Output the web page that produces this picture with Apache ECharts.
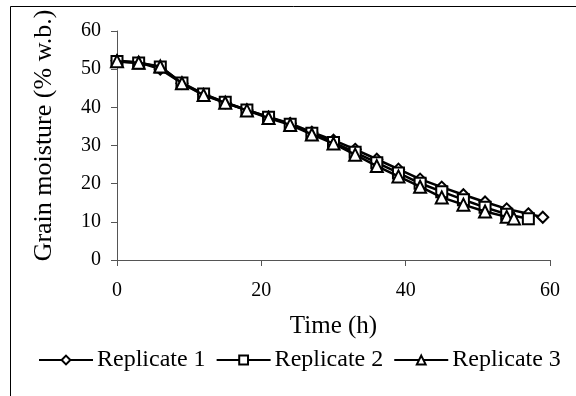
<!DOCTYPE html>
<html><head><meta charset="utf-8">
<script src="https://cdn.jsdelivr.net/npm/echarts@6/dist/echarts.min.js"></script>
<style>html,body{margin:0;padding:0;background:#fff}#c{width:576px;height:396px}</style>
</head><body><div id="c"></div>
<script>
const seriesNames = ['Replicate 1', 'Replicate 2', 'Replicate 3'];
const time1 = [0,3,6,9,12,15,18,21,24,27,30,33,36,39,42,45,48,51,54,57,59];
const rep1  = [52.2,51.8,50.0,46.3,43.4,41.2,39.3,37.5,35.8,33.5,31.4,29.0,26.4,23.8,21.2,19.1,17.1,15.2,13.4,12.1,11.2];
const time2 = [0,3,6,9,12,15,18,21,24,27,30,33,36,39,42,45,48,51,54,57];
const rep2  = [52.0,51.6,50.6,46.4,43.5,41.3,39.3,37.4,35.6,33.2,30.8,28.2,25.5,22.8,20.1,17.9,15.8,13.8,12.0,10.8];
const time3 = [0,3,6,9,12,15,18,21,24,27,30,33,36,39,42,45,48,51,54,55];
const rep3  = [52.1,51.7,50.7,46.3,43.2,41.2,39.2,37.2,35.4,32.9,30.5,27.6,24.6,21.9,19.2,16.4,14.5,12.7,11.3,10.9];
const xTicks = [0,20,40,60];
const yTicks = [0,10,20,30,40,50,60];

const font = '"Liberation Serif","Times New Roman",serif';
const pair = (t, v) => t.map((x, i) => [x, v[i]]);
const symbols = ['diamond', 'rect', 'triangle'];
const sizes = [11, 11, 12];
const data = [pair(time1, rep1), pair(time2, rep2), pair(time3, rep3)];

const chart = echarts.init(document.getElementById('c'), null, {renderer: 'canvas'});
chart.setOption({
  animation: false,
  backgroundColor: '#fff',
  graphic: [{
    type: 'rect', silent: true, z: -1,
    shape: {x: 10.5, y: 6.5, width: 700, height: 500},
    style: {fill: 'none', stroke: '#000', lineWidth: 1}
  }],
  grid: {left: 117, right: 26, top: 31, bottom: 136},
  legend: {
    bottom: 24, left: 38, width: 700, padding: 0,
    itemWidth: 54, itemHeight: 11, itemGap: 10,
    textStyle: {fontFamily: font, fontSize: 24, color: '#000', padding: [0, 0, 0, -1]},
    data: seriesNames
  },
  xAxis: {
    type: 'value', min: 0, max: 60, interval: 20,
    name: 'Time (h)', nameLocation: 'middle', nameGap: 54,
    nameTextStyle: {fontFamily: font, fontSize: 25, color: '#000'},
    axisLine: {show: true, onZero: false, lineStyle: {color: '#555', width: 1}},
    axisTick: {show: true, inside: false, length: 6, lineStyle: {color: '#555'}},
    axisLabel: {fontFamily: font, fontSize: 20, color: '#000', margin: 21},
    splitLine: {show: false}
  },
  yAxis: {
    type: 'value', min: 0, max: 60, interval: 10,
    name: 'Grain moisture (% w.b.)', nameLocation: 'middle', nameGap: 60, nameRotate: 90,
    nameTextStyle: {fontFamily: font, fontSize: 26, color: '#000', padding: [0, 0, 0, 20]},
    axisLine: {show: true, onZero: false, lineStyle: {color: '#555', width: 1}},
    axisTick: {show: true, inside: false, length: 6, lineStyle: {color: '#555'}},
    axisLabel: {fontFamily: font, fontSize: 20, color: '#000', margin: 16},
    splitLine: {show: false}
  },
  series: seriesNames.map((n, i) => ({
    name: n, type: 'line', data: data[i],
    symbol: symbols[i], symbolSize: sizes[i], showAllSymbol: true,
    lineStyle: {color: '#000', width: 2.5},
    itemStyle: {color: '#fff', borderColor: '#000', borderWidth: 2},
    z: 2 + i
  }))
});
</script></body></html>
